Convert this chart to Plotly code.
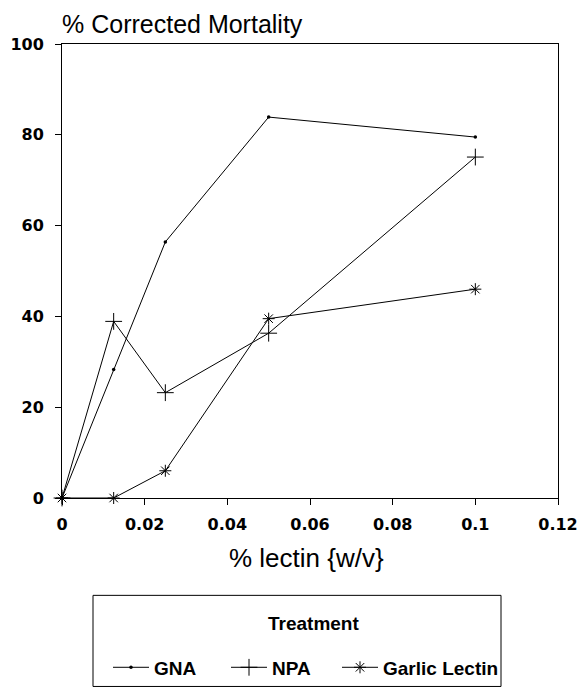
import plotly.graph_objects as go

x_vals = [0, 0.0125, 0.025, 0.05, 0.1]
gna = [0, 28.3, 56.4, 83.9, 79.5]
npa = [0, 38.9, 23.2, 36.3, 75.1]
garlic = [0, 0, 6.0, 39.5, 46.0]
x_ticks = [0, 0.02, 0.04, 0.06, 0.08, 0.1, 0.12]
x_tick_labels = ["0", "0.02", "0.04", "0.06", "0.08", "0.1", "0.12"]
y_ticks = [0, 20, 40, 60, 80, 100]

FONT = "Liberation Sans, Arial, sans-serif"
TICKFONT = "DejaVu Sans, sans-serif"

# the photographed page is squeezed vertically by about 688/698
H = 698
K = H / 688.0
TOP = round(43 * K)
BOT = round(497 * K)

def px(xp):
    return (xp - 62) / 496

def py(yp):
    return (BOT - yp * K) / (BOT - TOP)

fig = go.Figure()
fig.add_trace(go.Scatter(x=x_vals, y=gna, name="GNA", mode="lines+markers",
                         line=dict(color="black", width=1),
                         marker=dict(symbol="circle", size=3.5, color="black"),
                         cliponaxis=False, legend="legend"))
fig.add_trace(go.Scatter(x=x_vals, y=npa, name="NPA", mode="lines+markers",
                         line=dict(color="black", width=1),
                         marker=dict(symbol="cross-thin-open", size=12,
                                     line=dict(color="black", width=1)),
                         cliponaxis=False, legend="legend2"))
fig.add_trace(go.Scatter(x=x_vals, y=garlic, name="Garlic Lectin", mode="lines+markers",
                         line=dict(color="black", width=1),
                         marker=dict(symbol="asterisk-open", size=10,
                                     line=dict(color="black", width=1)),
                         cliponaxis=False, legend="legend3"))

leg_common = dict(orientation="h", yanchor="middle", y=py(666), xanchor="left",
                  bgcolor="rgba(0,0,0,0)", borderwidth=0,
                  font=dict(size=19, family=FONT, weight="bold"), itemwidth=36)

fig.update_layout(
    width=582, height=H,
    margin=dict(l=62, r=24, t=TOP, b=H - BOT),
    paper_bgcolor="white", plot_bgcolor="white",
    font=dict(family=FONT, color="black"),
    showlegend=True,
    legend=dict(leg_common, x=px(108)),
    legend2=dict(leg_common, x=px(226)),
    legend3=dict(leg_common, x=px(337)),
    xaxis=dict(range=[0, 0.12], tickvals=x_ticks, ticktext=x_tick_labels,
               showgrid=False, zeroline=False, showline=True, mirror=True,
               linecolor="black", linewidth=1, ticks="outside", ticklen=6,
               tickcolor="black", tickfont=dict(size=16, family=TICKFONT, weight="bold"),
               ticklabelstandoff=6, automargin=False),
    yaxis=dict(range=[0, 100], tickvals=y_ticks,
               showgrid=False, zeroline=False, showline=True, mirror=True,
               linecolor="black", linewidth=1, ticks="outside", ticklen=6,
               tickcolor="black", tickfont=dict(size=16, family=TICKFONT, weight="bold"),
               ticklabelstandoff=8, automargin=False),
    annotations=[
        dict(text="% Corrected Mortality", xref="paper", yref="paper",
             x=px(60), y=1, xanchor="left", yanchor="bottom", yshift=4,
             showarrow=False, font=dict(size=25, family=FONT)),
        dict(text="% lectin {w/v}", xref="paper", yref="paper",
             x=px(306), y=py(574), xanchor="center", yanchor="bottom",
             showarrow=False, font=dict(size=26, family=FONT)),
        dict(text="<b>Treatment</b>", xref="paper", yref="paper",
             x=px(313), y=py(622), xanchor="center", yanchor="middle",
             showarrow=False, font=dict(size=19, family=FONT)),
    ],
    shapes=[dict(type="rect", xref="paper", yref="paper",
                 x0=px(93), x1=px(501), y0=py(685), y1=py(594),
                 line=dict(color="black", width=1))],
)

post = ("var s='margin:0;padding:0;overflow:hidden;';"
        "document.documentElement.style.cssText=s;"
        "document.body.style.cssText=s;")
fig.write_html("out.html", config={"displayModeBar": False}, post_script=post)
